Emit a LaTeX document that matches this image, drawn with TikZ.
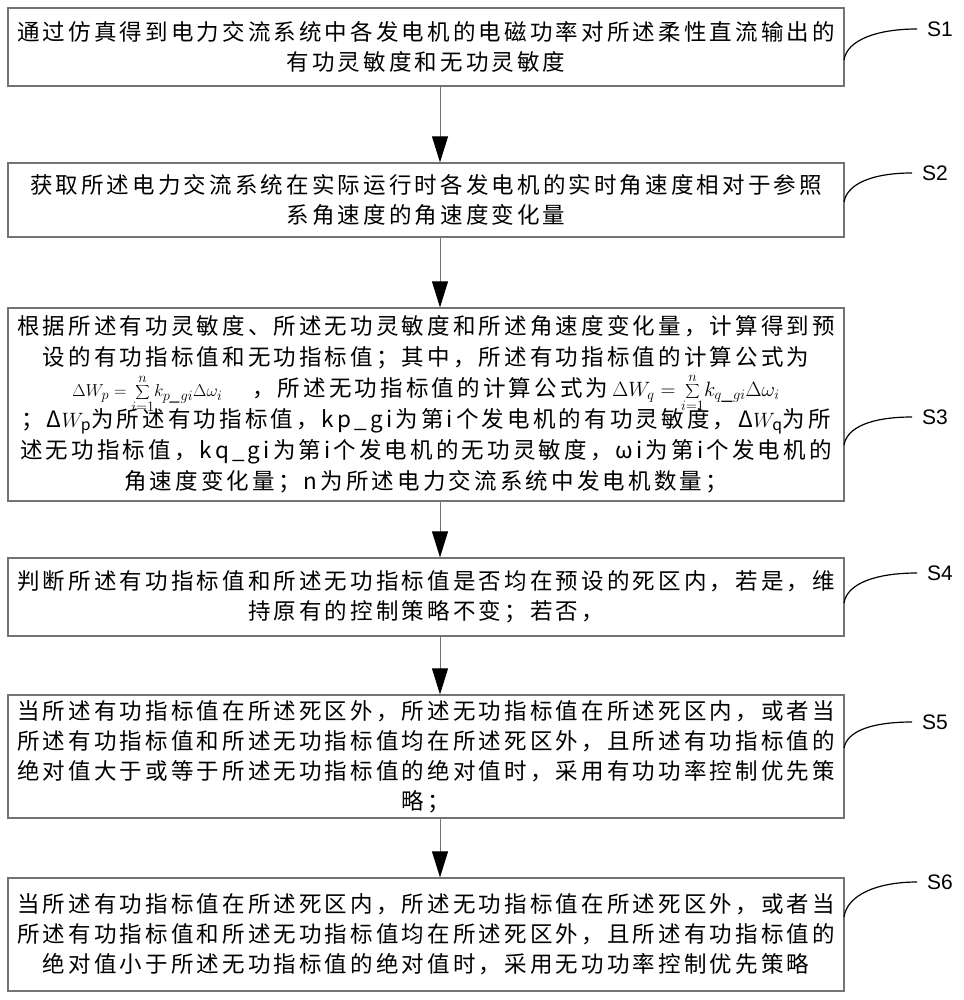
\documentclass[tikz,border=0pt]{standalone}
\usepackage{fontspec}
\setmainfont{Noto Sans CJK SC}
\newfontfamily\cjk[LetterSpace=14]{Noto Sans CJK SC}
\newfontfamily\labfont{Liberation Sans}
\usetikzlibrary{arrows.meta}
\tikzset{
  stepbox/.style={draw=black!55, line width=1.3pt, minimum width=836pt, align=center, inner sep=0pt,
    font=\cjk\fontsize{22.5}{30}\selectfont},
  flow/.style={draw=black!55, line width=0.9pt, -{Triangle[length=26pt,width=16pt,color=black]}},
  leader/.style={draw=black, line width=1.2pt},
  steplabel/.style={anchor=west, inner xsep=10pt, inner ysep=0pt, font=\labfont\fontsize{21}{24}\selectfont}
}
\begin{document}
\begin{tikzpicture}[x=1pt,y=1pt]
\fill[white] (0,0) rectangle (963,-1000);
\useasboundingbox (0,0) rectangle (963,-1000);

\node[stepbox, minimum height=78pt] (s1) at (426,-47)
  {通过仿真得到电力交流系统中各发电机的电磁功率对所述柔性直流输出的\\有功灵敏度和无功灵敏度};
\node[stepbox, minimum height=74pt] (s2) at (426,-200)
  {获取所述电力交流系统在实际运行时各发电机的实时角速度相对于参照\\系角速度的角速度变化量};
\node[stepbox, minimum height=193pt, font=\cjk\fontsize{22.5}{31}\selectfont] (s3) at (426,-404.5)
  {根据所述有功灵敏度、所述无功灵敏度和所述角速度变化量，计算得到预\\
   设的有功指标值和无功指标值；其中，所述有功指标值的计算公式为\\
   {\fontsize{19}{31}\selectfont$\Delta W_p=\smash{\displaystyle\sum_{i=1}^{n}}k_{p\_gi}\Delta\omega_i$}\hspace{30pt}，所述无功指标值的计算公式为\hspace{4pt}{\fontsize{21}{31}\selectfont$\Delta W_q=\smash{\displaystyle\sum_{i=1}^{n}}k_{q\_gi}\Delta\omega_i$}\\
   ；Δ$W_{\mathrm{p}}$为所述有功指标值，kp\_gi为第i个发电机的有功灵敏度，Δ$W_{\mathrm{q}}$为所\\
   述无功指标值，kq\_gi为第i个发电机的无功灵敏度，ωi为第i个发电机的\\
   角速度变化量；n为所述电力交流系统中发电机数量；};
\node[stepbox, minimum height=78pt] (s4) at (426,-597)
  {判断所述有功指标值和所述无功指标值是否均在预设的死区内，若是，维\\持原有的控制策略不变；若否，};
\node[stepbox, minimum height=123pt] (s5) at (426,-756.5)
  {当所述有功指标值在所述死区外，所述无功指标值在所述死区内，或者当\\
   所述有功指标值和所述无功指标值均在所述死区外，且所述有功指标值的\\
   绝对值大于或等于所述无功指标值的绝对值时，采用有功功率控制优先策\\略；};
\node[stepbox, minimum height=113pt] (s6) at (426,-934.5)
  {当所述有功指标值在所述死区内，所述无功指标值在所述死区外，或者当\\
   所述有功指标值和所述无功指标值均在所述死区外，且所述有功指标值的\\
   绝对值小于所述无功指标值的绝对值时，采用无功功率控制优先策略};

\coordinate (ax) at (440,0);
\draw[flow] (s1.south -| ax) -- (s2.north -| ax);
\draw[flow] (s2.south -| ax) -- (s3.north -| ax);
\draw[flow] (s3.south -| ax) -- (s4.north -| ax);
\draw[flow] (s4.south -| ax) -- (s5.north -| ax);
\draw[flow] (s5.south -| ax) -- (s6.north -| ax);

\node[steplabel] (l1) at (917,-29) {S1};
\node[steplabel] (l2) at (912,-173) {S2};
\node[steplabel] (l3) at (912,-417) {S3};
\node[steplabel] (l4) at (917,-573) {S4};
\node[steplabel] (l5) at (912,-722) {S5};
\node[steplabel] (l6) at (917,-882) {S6};

\coordinate (a1) at (844,-60);
\coordinate (a2) at (844,-202);
\coordinate (a3) at (844,-445);
\coordinate (a4) at (844,-603);
\coordinate (a5) at (844,-748);
\coordinate (a6) at (844,-917);
\draw[leader] (a1) .. controls +(3,20) and +(-40,0) .. (l1.west);
\draw[leader] (a2) .. controls +(3,18) and +(-40,0) .. (l2.west);
\draw[leader] (a3) .. controls +(3,18) and +(-40,0) .. (l3.west);
\draw[leader] (a4) .. controls +(3,20) and +(-40,0) .. (l4.west);
\draw[leader] (a5) .. controls +(3,17) and +(-40,0) .. (l5.west);
\draw[leader] (a6) .. controls +(3,22) and +(-40,0) .. (l6.west);
\end{tikzpicture}
\end{document}
